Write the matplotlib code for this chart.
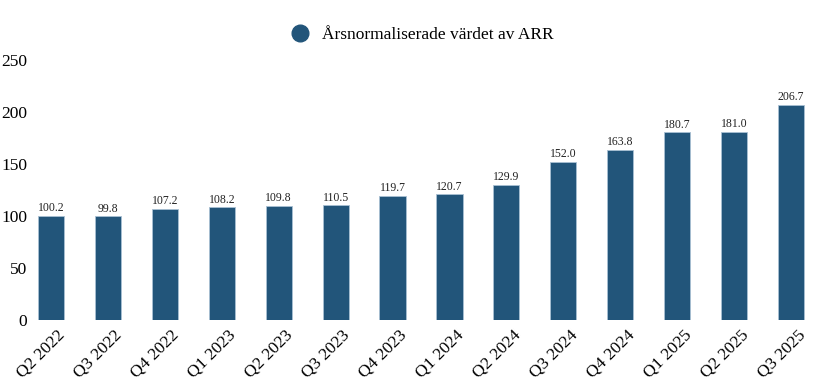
import matplotlib.pyplot as plt
import matplotlib.transforms as mtransforms
import numpy as np

quarters = ['Q2 2022', 'Q3 2022', 'Q4 2022', 'Q1 2023', 'Q2 2023', 'Q3 2023', 'Q4 2023',
            'Q1 2024', 'Q2 2024', 'Q3 2024', 'Q4 2024', 'Q1 2025', 'Q2 2025', 'Q3 2025']
arr = [100.2, 99.8, 107.2, 108.2, 109.8, 110.5, 119.7, 120.7, 129.9, 152.0, 163.8, 180.7, 181.0, 206.7]
series_name = 'Årsnormaliserade värdet av ARR'

plt.rcParams['font.family'] = ['Liberation Serif', 'DejaVu Serif']

fig = plt.figure(figsize=(8.2, 3.89), dpi=100)
ax = fig.add_axes([30/820, 1-320/389, 782/820, 260/389])

x = np.arange(len(quarters))
bars = ax.bar(x, arr, width=0.46, color='#22557a', edgecolor='#a9c0d3', linewidth=0.6)

for xi, v in zip(x, arr):
    ax.text(xi, v + 1.5, f'{v:.1f}', ha='center', va='bottom', fontsize=8.5, color='#222222')

ax.set_xlim(-0.37, len(quarters) - 1 + 0.37)
ax.set_ylim(0, 250)
ax.set_yticks(range(0, 251, 50))
ax.set_xticks(x)
ax.set_xticklabels(quarters, rotation=45, ha='right', rotation_mode='anchor', fontsize=12.5)
ax.tick_params(axis='y', labelsize=12.5, length=0, pad=2)
ax.tick_params(axis='x', length=0, pad=5)
# nudge the rotated labels a bit to the right, like the original
shift = mtransforms.ScaledTranslation(6/100, 0, fig.dpi_scale_trans)
for lbl in ax.get_xticklabels():
    lbl.set_transform(lbl.get_transform() + shift)
for s in ax.spines.values():
    s.set_visible(False)

handle = plt.Line2D([], [], marker='o', linestyle='none', markersize=12,
                    color='#22557a')
fig.legend([handle], [series_name], loc='center', bbox_to_anchor=(0.51, 1-35/389),
           frameon=False, fontsize=12.5, handletextpad=0.3)

fig.savefig('out.png', dpi=100)
